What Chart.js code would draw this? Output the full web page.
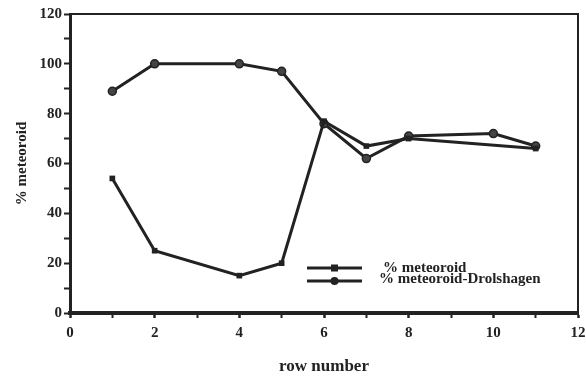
<!DOCTYPE html>
<html>
<head>
<meta charset="utf-8">
<script src="https://cdn.jsdelivr.net/npm/chart.js@4.4.1/dist/chart.umd.min.js"></script>
<style>
  html, body { margin: 0; padding: 0; background: #fff; }
  #wrap { width: 586px; height: 381px; }
</style>
</head>
<body>
<div id="wrap"><canvas id="myChart"></canvas></div>
<script>
// values
const meteoroidRows = [1, 2, 4, 5, 6, 7, 8, 11];
const meteoroidPct = [54, 25, 15, 20, 77, 67, 70, 66];

const drolshagenRows = [1, 2, 4, 5, 6, 7, 8, 10, 11];
const drolshagenPct = [89, 100, 100, 97, 76, 62, 71, 72, 67];

const seriesLabels = ['% meteoroid', '% meteoroid-Drolshagen'];
const xTitle = 'row number';
const yTitle = '% meteoroid';

const ink = '#222';
const serif = '"Liberation Serif", "DejaVu Serif", serif';

function toPoints(xs, ys) {
    let pts = [];
    for (let i = 0; i < xs.length; i++) {
        pts.push({x: xs[i], y: ys[i]});
    }
    return pts;
}

// top and right edges of the frame
const framePlugin = {
    id: 'framePlugin',
    afterDraw(chart) {
        const ctx = chart.ctx;
        const a = chart.chartArea;
        ctx.save();
        ctx.strokeStyle = ink;
        ctx.lineWidth = 2;
        ctx.beginPath();
        ctx.moveTo(a.left, a.top);
        ctx.lineTo(a.right, a.top);
        ctx.lineTo(a.right, a.bottom);
        ctx.stroke();
        ctx.restore();
    }
};

// legend sits inside the plot, lower right
const legendPlugin = {
    id: 'legendPlugin',
    afterDraw(chart) {
        const ctx = chart.ctx;
        const a = chart.chartArea;
        const rows = [
            {ly: a.bottom - 45, ty: a.bottom - 45, tx: a.left + 313},
            {ly: a.bottom - 32, ty: a.bottom - 34, tx: a.left + 309}
        ];
        ctx.save();
        chart.data.datasets.forEach(function(ds, i) {
            const r = rows[i];
            const x0 = a.left + 237;
            const x1 = a.left + 292;
            ctx.strokeStyle = ink;
            ctx.lineWidth = 3;
            ctx.beginPath();
            ctx.moveTo(x0, r.ly);
            ctx.lineTo(x1, r.ly);
            ctx.stroke();
            ctx.fillStyle = ink;
            const mx = (x0 + x1) / 2;
            if (ds.pointStyle === 'rect') {
                ctx.fillRect(mx - 3.5, r.ly - 3.5, 7, 7);
            } else {
                ctx.beginPath();
                ctx.arc(mx, r.ly, 4, 0, Math.PI * 2);
                ctx.fill();
            }
            ctx.font = 'bold 15px ' + serif;
            ctx.textBaseline = 'middle';
            ctx.textAlign = 'left';
            ctx.fillText(ds.label, r.tx, r.ty);
        });
        ctx.restore();
    }
};

const ctx = document.getElementById('myChart');

myChart = new Chart(ctx, {
    type: 'line',
    data: {
        datasets: [{
            label: seriesLabels[0],
            data: toPoints(meteoroidRows, meteoroidPct),
            borderColor: ink,
            backgroundColor: ink,
            borderWidth: 3,
            pointStyle: 'rect',
            pointRadius: 4,
            pointBorderWidth: 0,
            tension: 0
        }, {
            label: seriesLabels[1],
            data: toPoints(drolshagenRows, drolshagenPct),
            borderColor: ink,
            backgroundColor: '#444',
            borderWidth: 3,
            pointStyle: 'circle',
            pointRadius: 4,
            pointBorderWidth: 1.5,
            tension: 0
        }]
    },
    options: {
        responsive: true,
        maintainAspectRatio: false,
        animation: false,
        layout: {
            padding: {top: 14, right: 8, bottom: 0, left: 0}
        },
        plugins: {
            legend: {display: false},
            tooltip: {enabled: false}
        },
        scales: {
            x: {
                type: 'linear',
                min: 0,
                max: 12,
                afterFit: function(scale) {
                    scale.height = 68;
                    scale.paddingLeft = 0;
                    scale.paddingRight = 0;
                },
                ticks: {
                    stepSize: 1,
                    color: ink,
                    padding: 6,
                    font: {family: serif, size: 15, weight: 'bold'},
                    callback: function(v) { return v % 2 === 0 ? v : ''; }
                },
                grid: {
                    drawOnChartArea: false,
                    tickLength: 5,
                    tickColor: ink,
                    tickWidth: function(c) { return c.tick && c.tick.value % 2 === 0 ? 2.5 : 2; }
                },
                border: {color: ink, width: 4},
                title: {
                    display: true,
                    text: xTitle,
                    color: ink,
                    padding: {top: 0, bottom: 4},
                    font: {family: serif, size: 17, weight: 'bold'}
                }
            },
            y: {
                min: 0,
                max: 120,
                afterFit: function(scale) { scale.width = 70; },
                ticks: {
                    stepSize: 10,
                    color: ink,
                    padding: 2,
                    font: {family: serif, size: 15, weight: 'bold'},
                    callback: function(v) { return v % 20 === 0 ? v : ''; }
                },
                grid: {
                    drawOnChartArea: false,
                    tickLength: 6,
                    tickColor: ink,
                    tickWidth: 2
                },
                border: {color: ink, width: 3},
                title: {
                    display: true,
                    text: yTitle,
                    color: ink,
                    padding: {top: 13, bottom: 0},
                    font: {family: serif, size: 15, weight: 'bold'}
                }
            }
        }
    },
    plugins: [framePlugin, legendPlugin]
});
</script>
</body>
</html>
